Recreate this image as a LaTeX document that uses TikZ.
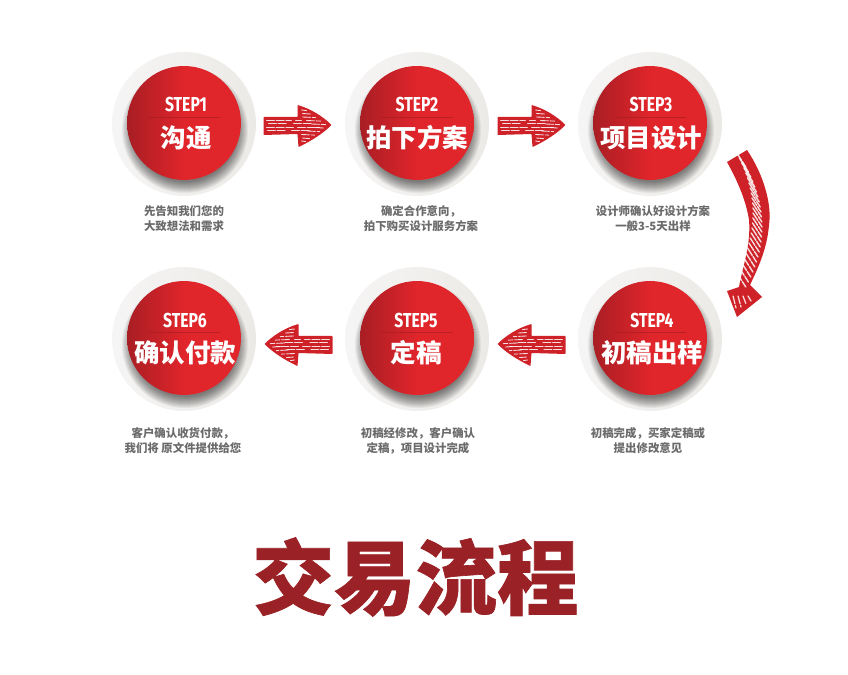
\documentclass[tikz,border=0pt]{standalone}
\usepackage{fontspec}
\setmainfont{Noto Sans CJK SC}
\newfontfamily\stepfont[FakeStretch=0.78]{Fira Sans}
\newfontfamily\titlefont[BoldFeatures={FakeBold=0.8}]{Noto Sans CJK SC}
\usetikzlibrary{calc}
\definecolor{stepred}{HTML}{E0252B}
\definecolor{stepdark}{HTML}{A81E24}
\definecolor{titlered}{HTML}{9A2125}
\definecolor{notegray}{HTML}{6B6B6B}
\definecolor{discleft}{HTML}{F6F5F5}
\definecolor{discright}{HTML}{ECEAE6}
\tikzset{
    px/.style={x=0.02cm,y=-0.02cm},
    outerdisc/.style={circle,minimum size=2.88cm,inner sep=0pt,left color=discleft,right color=discright},
    innerdisc/.style={circle,minimum size=2.28cm,inner sep=0pt,left color=stepdark,right color=stepred,middle color=stepred},
    steptext/.style={text=white,font=\stepfont\bfseries\fontsize{11.5}{12}\selectfont},
    nametext/.style={text=white,font=\bfseries\fontsize{14.5}{15}\selectfont},
    notetext/.style={text=notegray,align=center,font=\bfseries\fontsize{6.5}{8.5}\selectfont},
    scratch/.style={white,line width=0.5pt,line cap=round,opacity=0.85,dash pattern=on 4.5pt off 1pt},
}
% one hatched arrow pointing right, origin in the middle
\newcommand{\sketcharrow}{
    \fill[stepred!92!black,rounded corners=0.3pt] (-36,-8) -- (-2,-8) -- (-2,-20) .. controls (12,-16) and (24,-8) .. (32,0)
        .. controls (24,8) and (12,16) .. (-1,22) -- (-2,9) -- (-36,10) -- cycle;
    \foreach \sy/\sa/\sb in {-5/-33/-8,-1.5/-31/-12,2/-33/-6,5.5/-32/-14,-5/-4/2,-1.5/-6/12,2/-2/20,5.5/-8/10}
        \draw[scratch] (\sa,\sy) -- (\sb,\sy);
    \foreach \sy/\sa/\sb in {-15/2/7,-11.5/3/12,-8/3/16,-4.5/7/21,-1/12/26,2.5/16/25,6/8/20,9.5/2/15,13/3/10,16/2/6}
        \draw[scratch] (\sa,\sy) -- (\sb,\sy+0.6);
}
\begin{document}
\begin{tikzpicture}[px]
    \useasboundingbox (0,0) rectangle (848,675);
    %% discs
    \foreach \i/\cx/\cy/\dx/\lab in {1/184/124/2/沟通,2/417/124/0/拍下方案,3/650/124/1/项目设计,4/650/339/2/初稿出样,5/417/339/-1/定稿,6/184/339/1/确认付款}{
        \node[outerdisc] (outer\i) at (\cx,\cy) {};
        \foreach \r in {0,...,11}
            \fill[black,opacity=0.05] ($(\cx,\cy)+(1,6)$) circle ({(63-\r)*0.02cm});
        \node[innerdisc] (disc\i) at (\cx,\cy-1) {};
        \node[steptext] (step\i) at (\cx+\dx,\cy-19) {STEP\i};
        \node[nametext] (name\i) at (\cx+\dx,\cy+14) {\lab};
        \draw[stepdark,line width=0.4pt,opacity=0.7] ($(\cx,\cy-7)+(-36,0)$) -- ($(\cx,\cy-7)+(36,0)$);
    }
    %% notes
    \node[notetext] (note1) at (184,218.5) {先告知我们您的\\大致想法和需求};
    \node[notetext] (note2) at (421,218.5) {确定合作意向，\\拍下购买设计服务方案};
    \node[notetext] (note3) at (653,218.5) {设计师确认好设计方案\\一般3-5天出样};
    \node[notetext] (note4) at (648,440.5) {初稿完成，买家定稿或\\提出修改意见};
    \node[notetext] (note5) at (418,440.5) {初稿经修改，客户确认\\定稿，项目设计完成};
    \node[notetext] (note6) at (183,440.5) {客户确认收货付款，\\我们将 原文件提供给您};
    %% straight arrows
    \begin{scope}[shift={($(disc1)!.5!(disc2)+(-1,2)$)}] \sketcharrow \end{scope}
    \begin{scope}[shift={($(disc2)!.5!(disc3)+(0,2)$)}] \sketcharrow \end{scope}
    \begin{scope}[shift={($(disc5)!.5!(disc4)+(-4,6)$)},xscale=-1] \sketcharrow \end{scope}
    \begin{scope}[shift={($(disc6)!.5!(disc5)+(-4,6)$)},xscale=-1] \sketcharrow \end{scope}
    %% curved arrow
    \fill[stepred!92!black] (727,162) -- (747,150) .. controls (764,175) and (772,205) .. (769,225)
        .. controls (767,250) and (757,270) .. (750,285) -- (762,297) -- (737,317) -- (727,291) -- (739,287)
        .. controls (743,265) and (751,245) .. (749,220) .. controls (746,200) and (737,180) .. (727,162) -- cycle;
    \foreach \sy in {160,165,...,284}
        \draw[scratch,line width=0.8pt,dash pattern=on 5pt off 0.8pt] ({758-0.0045*(\sy-220)*(\sy-220)-5},\sy-7) -- ({758-0.0045*(\sy-220)*(\sy-220)+4},\sy+7);
    \foreach \sx/\sl in {733/308,738/307,743/304,748/301}
        \draw[scratch,line width=0.7pt] (\sx,296) -- (\sx+3,\sl);
    %% title
    \node[text=titlered,font=\titlefont\bfseries\fontsize{46.4}{50}\selectfont] (title) at (415.5,577) {交易流程};
\end{tikzpicture}
\end{document}
